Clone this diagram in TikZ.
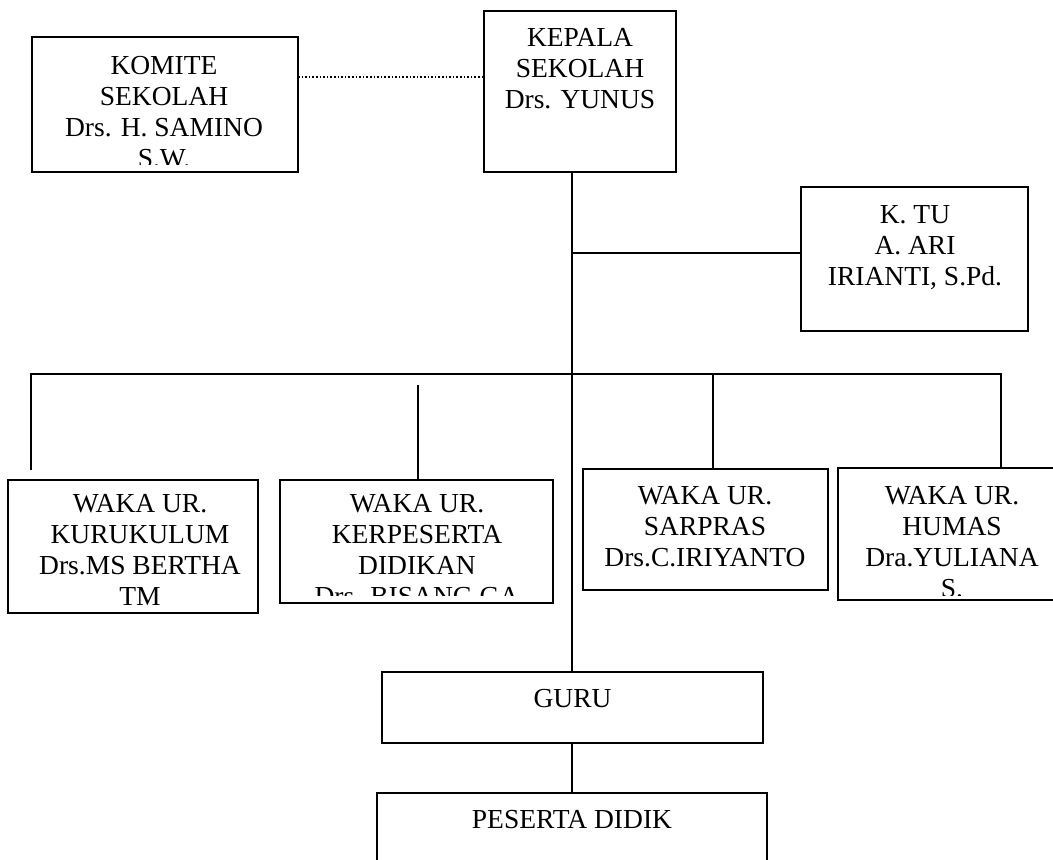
\documentclass[tikz,border=0pt]{standalone}
\usepackage{fontspec}
\setmainfont{Liberation Serif}
\begin{document}
\begin{tikzpicture}[x=1pt,y=-1pt]
\tikzset{
  box/.style={draw, line width=1.6pt, inner sep=0pt, outer sep=0pt},
  txt/.style={inner sep=0pt, outer sep=0pt, align=center, anchor=north,
              font=\fontsize{27.5}{31}\selectfont},
  link/.style={line width=1.6pt},
  dotlink/.style={line width=1.6pt, dotted},
}
\useasboundingbox[fill=white] (0,0) rectangle (1053,860);

% boxes
\node[box, minimum width=266pt, minimum height=135pt] (kom)  at (165,104.5) {};
\node[box, minimum width=192pt, minimum height=161pt] (kep)  at (580,91.5) {};
\node[box, minimum width=227pt, minimum height=144pt] (ktu)  at (914.5,259) {};
\node[box, minimum width=250pt, minimum height=133pt] (kur)  at (133,546.5) {};
\node[box, minimum width=273pt, minimum height=123pt] (kerp) at (416.5,541.5) {};
\node[box, minimum width=245pt, minimum height=121pt] (sar)  at (705.5,529.5) {};
\node[box, minimum width=228pt, minimum height=132pt] (hum)  at (952,534) {};
\node[box, minimum width=381pt, minimum height=71pt]  (guru) at (572.5,707.5) {};
\node[inner sep=0pt, outer sep=0pt, minimum width=390pt, minimum height=87pt] (pes) at (572,836.5) {};
\draw[link] (pes.south west) -- (pes.north west) -- (pes.north east) -- (pes.south east);

% texts
\begin{scope}
  \clip (32,37) rectangle (298,164);
  \node[txt] (komt) at (164,56.5) {KOMITE\\SEKOLAH\\Drs. H. SAMINO\\S.W.};
\end{scope}
\node[txt] (kept) at (580,28.5) {KEPALA\\SEKOLAH\\Drs. YUNUS};
\node[txt] (ktut) at (915,205.5) {K. TU\\A. ARI\\IRIANTI, S.Pd.};
\node[txt] (kurt) at (140,494) {WAKA UR.\\KURUKULUM\\Drs.MS BERTHA\\TM};
\begin{scope}
  \clip (280,480) rectangle (553,595);
  \node[txt] (kerpt) at (417,494) {WAKA UR.\\KERPESERTA\\DIDIKAN\\Drs. BISANG GA};
\end{scope}
\node[txt] (sart) at (705,486) {WAKA UR.\\SARPRAS\\Drs.C.IRIYANTO};
\begin{scope}
  \clip (838,468) rectangle (1066,595);
  \node[txt] (humt) at (952,486) {WAKA UR.\\HUMAS\\Dra.YULIANA\\S.};
\end{scope}
\node[txt] (gurut) at (572.5,689) {GURU};
\node[txt] (pest) at (572,810) {PESERTA DIDIK};

% helper coordinates
\coordinate (spine) at (572,0);
\coordinate (doty) at (0,77);
\coordinate (ktuy) at (0,253);
\coordinate (busL) at (31,374);
\coordinate (busR) at (1001,374);
\coordinate (kurend) at (31,470);
\coordinate (sarx) at (713,374);
\coordinate (kerx) at (418,385);

% connectors
\draw[dotlink] (kom.east |- doty) -- (kep.west |- doty);
\draw[link] (kep.south -| spine) -- (guru.north -| spine);
\draw[link] (spine |- ktuy) -- (ktu.west |- ktuy);
\draw[link] (kurend) -- (busL) -- (busR) -- (busR |- hum.north);
\draw[link] (sarx) -- (sarx |- sar.north);
\draw[link] (kerx) -- (kerx |- kerp.north);
\draw[link] (guru.south -| spine) -- (pes.north -| spine);
\end{tikzpicture}
\end{document}
